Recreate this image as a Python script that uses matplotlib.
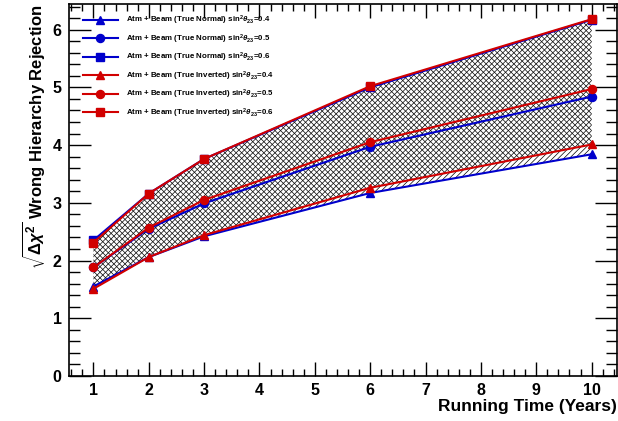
import matplotlib
matplotlib.use("Agg")
import matplotlib.pyplot as plt
from matplotlib.ticker import MultipleLocator

plt.rcParams['font.family'] = ['Liberation Sans', 'DejaVu Sans']
plt.rcParams['font.weight'] = 'bold'
plt.rcParams['mathtext.fontset'] = 'custom'
plt.rcParams['mathtext.rm'] = 'Liberation Sans:bold'
plt.rcParams['mathtext.it'] = 'Liberation Sans:bold:italic'
plt.rcParams['mathtext.bf'] = 'Liberation Sans:bold'
plt.rcParams['hatch.linewidth'] = 0.5

years = [1, 2, 3, 6, 10]
normal_04 = [1.55, 2.06, 2.42, 3.17, 3.84]
normal_05 = [1.88, 2.55, 2.99, 3.97, 4.84]
normal_06 = [2.35, 3.16, 3.76, 5.00, 6.17]
inverted_04 = [1.51, 2.06, 2.44, 3.26, 4.01]
inverted_05 = [1.88, 2.57, 3.05, 4.05, 4.97]
inverted_06 = [2.31, 3.16, 3.76, 5.02, 6.18]

labels = [
    r'Atm + Beam (True Normal) sin$^{2}\theta_{23}$=0.4',
    r'Atm + Beam (True Normal) sin$^{2}\theta_{23}$=0.5',
    r'Atm + Beam (True Normal) sin$^{2}\theta_{23}$=0.6',
    r'Atm + Beam (True Inverted) sin$^{2}\theta_{23}$=0.4',
    r'Atm + Beam (True Inverted) sin$^{2}\theta_{23}$=0.5',
    r'Atm + Beam (True Inverted) sin$^{2}\theta_{23}$=0.6',
]

blue = '#0000cc'
red = '#d10000'

fig = plt.figure(figsize=(6.18, 4.21), dpi=100)
ax = fig.add_axes([68.5/618, 45/421, (616.5-68.5)/618, (376.3-4.5)/421])

ax.fill_between(years, normal_04, normal_06, facecolor='none', edgecolor='black',
                hatch='//////', linewidth=0)
ax.fill_between(years, inverted_04, inverted_06, facecolor='none', edgecolor='black',
                hatch='\\\\\\\\\\\\', linewidth=0)

series = [
    (normal_04, blue, '^'), (normal_05, blue, 'o'), (normal_06, blue, 's'),
    (inverted_04, red, '^'), (inverted_05, red, 'o'), (inverted_06, red, 's'),
]
for (vals, col, mk), lab in zip(series, labels):
    ax.plot(years, vals, color=col, marker=mk, markersize=5.8, linewidth=1.5,
            label=lab)

ax.set_xlim(0.55, 10.45)
ax.set_ylim(0, 6.44)
ax.xaxis.set_major_locator(MultipleLocator(1))
ax.xaxis.set_minor_locator(MultipleLocator(0.2))
ax.yaxis.set_major_locator(MultipleLocator(1))
ax.yaxis.set_minor_locator(MultipleLocator(0.2))
ax.tick_params(which='both', direction='in', top=True, right=True, width=1.0)
ax.tick_params(axis='x', which='major', length=10)
ax.tick_params(axis='x', which='minor', length=5)
ax.tick_params(axis='y', which='major', length=16)
ax.tick_params(axis='y', which='minor', length=8)
ax.tick_params(labelsize=11.5, pad=5)
for lab in ax.get_xticklabels() + ax.get_yticklabels():
    lab.set_fontweight('bold')
for sp in ax.spines.values():
    sp.set_linewidth(1.2)

ax.set_xlabel('Running Time (Years)', fontsize=12.5, fontweight='bold', loc='right', labelpad=1)
ax.set_ylabel(r'$\sqrt{\Delta\chi^{2}}$ Wrong Hierarchy Rejection', fontsize=12,
              fontweight='bold', loc='top', labelpad=4)

leg = ax.legend(loc='upper left', bbox_to_anchor=(83/618, 1 - 14/421), bbox_transform=fig.transFigure,
                frameon=False, fontsize=5.7, handlelength=4.4, labelspacing=0.65,
                handletextpad=1.0, borderpad=0, borderaxespad=0, markerscale=1.0)
for t in leg.get_texts():
    t.set_fontweight('bold')

fig.savefig('out.png', dpi=100)
